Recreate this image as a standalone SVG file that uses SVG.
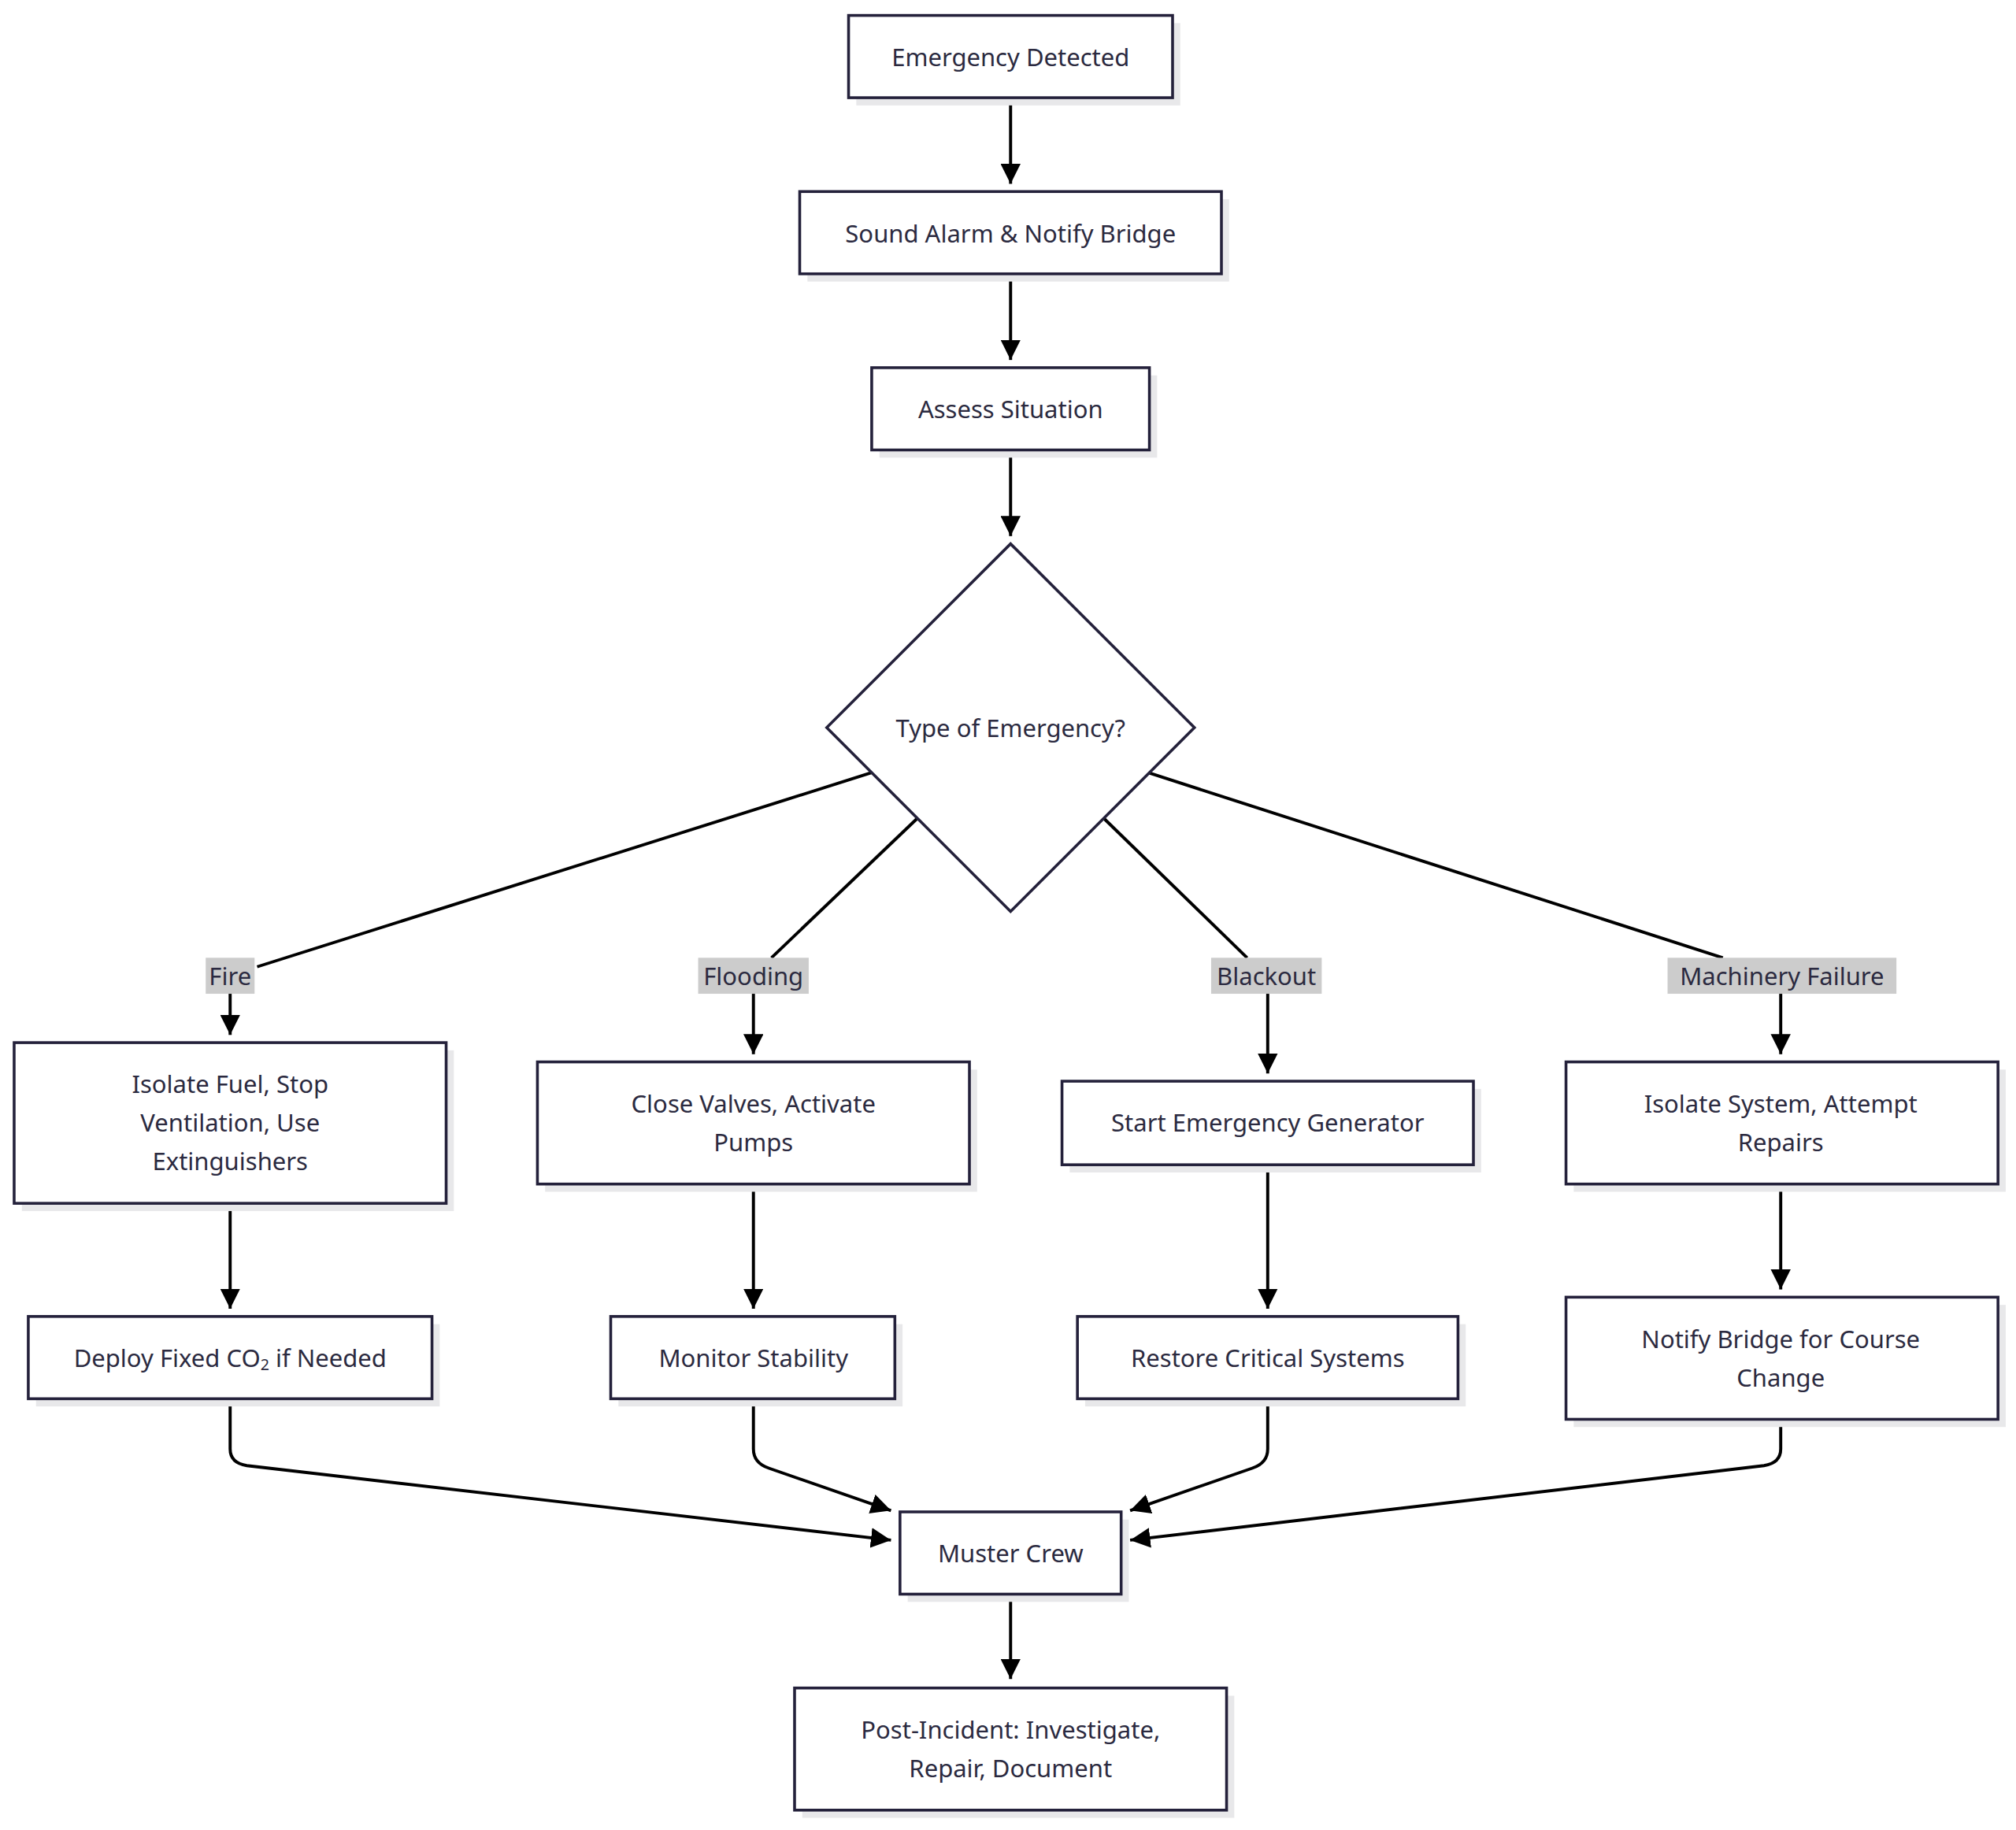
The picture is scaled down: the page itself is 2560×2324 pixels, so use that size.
<svg xmlns="http://www.w3.org/2000/svg" width="2560" height="2324" viewBox="0 0 2560 2324">
<style>
.box{fill:#fff;stroke:#24213b;stroke-width:2.2}
.sh{fill:#e8e8ea}
text{font-family:"Noto Sans","Open Sans",sans-serif;font-size:19px;fill:#2b2a40;text-anchor:middle;dominant-baseline:central}
.e{fill:none;stroke:#000;stroke-width:2.4}
.lb{fill:#cccccc}
</style>
<defs><marker id="a" viewBox="0 0 10 10" refX="10" refY="5" markerWidth="6.5" markerHeight="6.5" markerUnits="strokeWidth" orient="auto"><path d="M0,0L10,5L0,10z" fill="#000"/></marker></defs>
<rect width="2560" height="2324" fill="#fff"/>
<g transform="scale(1.63265)">
<g id="connectors">
<path class="e" marker-end="url(#a)" d="M786,76V143"/>
<path class="e" marker-end="url(#a)" d="M786,213V280"/>
<path class="e" marker-end="url(#a)" d="M786,350V417"/>
<path class="e" d="M678,601L200,752"/>
<path class="e" d="M713,637L600,745"/>
<path class="e" d="M859,637L970,745"/>
<path class="e" d="M893,601L1340,745"/>
<path class="e" marker-end="url(#a)" d="M179,773V805"/>
<path class="e" marker-end="url(#a)" d="M586,773V820"/>
<path class="e" marker-end="url(#a)" d="M986,773V835"/>
<path class="e" marker-end="url(#a)" d="M1385,773V820"/>
<path class="e" marker-end="url(#a)" d="M179,936V1018"/>
<path class="e" marker-end="url(#a)" d="M586,921V1018"/>
<path class="e" marker-end="url(#a)" d="M986,906V1018"/>
<path class="e" marker-end="url(#a)" d="M1385,921V1003"/>
<path class="e" marker-end="url(#a)" d="M179,1088V1127Q179,1138 192,1140L693,1198"/>
<path class="e" marker-end="url(#a)" d="M586,1088V1127Q586,1138 598,1142L693,1175"/>
<path class="e" marker-end="url(#a)" d="M986,1088V1127Q986,1138 974,1142L879,1175"/>
<path class="e" marker-end="url(#a)" d="M1385,1104V1127Q1385,1138 1372,1140L879,1198"/>
<path class="e" marker-end="url(#a)" d="M786,1240V1306"/>
</g>
<g id="labels">
<rect class="lb" x="160" y="745" width="38" height="28"/><text x="179" y="759">Fire</text>
<rect class="lb" x="543" y="745" width="86" height="28"/><text x="586" y="759">Flooding</text>
<rect class="lb" x="942" y="745" width="86" height="28"/><text x="985" y="759">Blackout</text>
<rect class="lb" x="1297" y="745" width="178" height="28"/><text x="1386" y="759">Machinery Failure</text>
</g>
<g id="n1"><rect class="sh" x="666" y="18" width="252" height="64"/><rect class="box" x="660" y="12" width="252" height="64"/><text x="786" y="44">Emergency Detected</text></g>
<g id="n2"><rect class="sh" x="628" y="155" width="328" height="64"/><rect class="box" x="622" y="149" width="328" height="64"/><text x="786" y="181">Sound Alarm &amp; Notify Bridge</text></g>
<g id="n3"><rect class="sh" x="684" y="292" width="216" height="64"/><rect class="box" x="678" y="286" width="216" height="64"/><text x="786" y="318">Assess Situation</text></g>
<g id="n4"><path class="box" d="M786,423L929,566L786,709L643,566Z"/><text x="786" y="566">Type of Emergency?</text></g>
<g id="n5"><rect class="sh" x="17" y="817" width="336" height="125"/><rect class="box" x="11" y="811" width="336" height="125"/><text x="179" y="843">Isolate Fuel, Stop</text><text x="179" y="873">Ventilation, Use</text><text x="179" y="903">Extinguishers</text></g>
<g id="n6"><rect class="sh" x="424" y="832" width="336" height="95"/><rect class="box" x="418" y="826" width="336" height="95"/><text x="586" y="858">Close Valves, Activate</text><text x="586" y="888">Pumps</text></g>
<g id="n7"><rect class="sh" x="832" y="847" width="320" height="65"/><rect class="box" x="826" y="841" width="320" height="65"/><text x="986" y="873">Start Emergency Generator</text></g>
<g id="n8"><rect class="sh" x="1224" y="832" width="336" height="95"/><rect class="box" x="1218" y="826" width="336" height="95"/><text x="1385" y="858">Isolate System, Attempt</text><text x="1385" y="888">Repairs</text></g>
<g id="n9"><rect class="sh" x="28" y="1030" width="314" height="64"/><rect class="box" x="22" y="1024" width="314" height="64"/><text x="179" y="1056">Deploy Fixed CO<tspan font-size="12" dy="5">2</tspan><tspan dy="-5"> if Needed</tspan></text></g>
<g id="n10"><rect class="sh" x="481" y="1030" width="221" height="64"/><rect class="box" x="475" y="1024" width="221" height="64"/><text x="586" y="1056">Monitor Stability</text></g>
<g id="n11"><rect class="sh" x="844" y="1030" width="296" height="64"/><rect class="box" x="838" y="1024" width="296" height="64"/><text x="986" y="1056">Restore Critical Systems</text></g>
<g id="n12"><rect class="sh" x="1224" y="1015" width="336" height="95"/><rect class="box" x="1218" y="1009" width="336" height="95"/><text x="1385" y="1041">Notify Bridge for Course</text><text x="1385" y="1071">Change</text></g>
<g id="n13"><rect class="sh" x="706" y="1182" width="172" height="64"/><rect class="box" x="700" y="1176" width="172" height="64"/><text x="786" y="1208">Muster Crew</text></g>
<g id="n14"><rect class="sh" x="624" y="1319" width="336" height="95"/><rect class="box" x="618" y="1313" width="336" height="95"/><text x="786" y="1345">Post-Incident: Investigate,</text><text x="786" y="1375">Repair, Document</text></g>
</g>
</svg>
